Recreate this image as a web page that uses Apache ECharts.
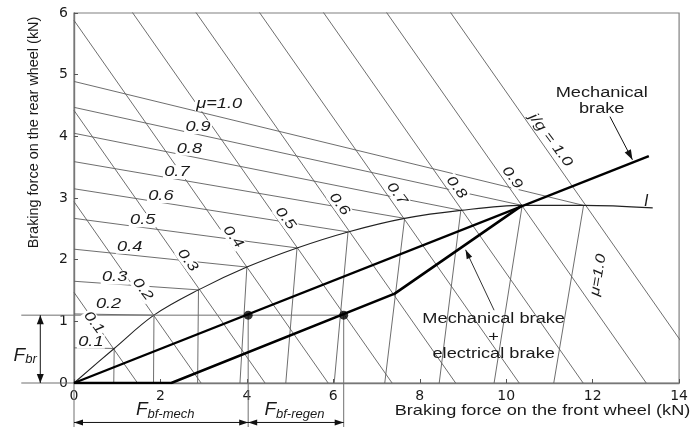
<!DOCTYPE html>
<html><head><meta charset="utf-8">
<script src="https://cdn.jsdelivr.net/npm/echarts@6/dist/echarts.min.js"></script>
<style>html,body{margin:0;padding:0;background:#fff}#c{width:691px;height:427px}</style>
</head><body><div id="c"></div>
<script>
// ---------------- values (kN) ----------------
// ideal braking force distribution curve I (points at j/g = 0, 0.1 ... 1.0, then its end)
const idealFront = [0, 0.93, 1.85, 2.88, 4.00, 5.16, 6.34, 7.65, 8.95, 10.37, 11.79, 13.39];
const idealRear  = [0, 0.56, 1.10, 1.51, 1.88, 2.19, 2.45, 2.67, 2.80, 2.88, 2.88, 2.84];
// friction levels mu = 0.1 ... 1.0
const muLevels = ['0.1', '0.2', '0.3', '0.4', '0.5', '0.6', '0.7', '0.8', '0.9', '1.0'];
// rear-wheel-lock lines: value on the rear-force axis at front force 0
const rearLockStart = [0.57, 1.12, 1.65, 2.17, 2.67, 3.15, 3.59, 4.05, 4.47, 4.89];
// front-wheel-lock lines: value on the front-force axis at rear force 0
const frontLockStart = [0.92, 1.84, 2.86, 3.84, 4.90, 6.02, 7.19, 8.45, 9.72, 11.10];
// constant-deceleration lines j/g = 0.1 ... 1.0: total braking force
const decelTotal = [1.47, 2.94, 4.42, 5.88, 7.36, 8.83, 10.30, 11.78, 13.24, 14.72];
// mechanical brake line
const mechFront = [0, 13.30];
const mechRear  = [0, 3.68];
// mechanical + electrical brake line
const hybFront = [0, 2.25, 7.42, 10.37];
const hybRear  = [0, 0, 1.45, 2.88];
// operating points (F_br and the two front forces)
const opRear = 1.10;
const opFront = [4.03, 6.24];
// tick labels
const xTicks = ['0', '2', '4', '6', '8', '10', '12', '14'];
const yTicks = ['0', '1', '2', '3', '4', '5', '6'];

// ---------------- label placement (layout, not data) ----------------
const rearLabelPos = [[0.39,0.67],[0.80,1.28],[0.94,1.71],[1.29,2.21],[1.59,2.64],[2.01,3.03],[2.38,3.42],[2.67,3.80],[2.87,4.15],[3.36,4.52]];
const decelLabelPos = [[0.46,0.98],[1.59,1.52],[2.63,1.99],[3.68,2.37],[4.89,2.67],[6.14,2.90],[7.47,3.07],[8.85,3.17],[10.14,3.33],[11.03,3.94]];

const SANS = '"Liberation Sans", Arial, Helvetica, sans-serif';
const INK = '#1a1a1a';
const thin = {color: '#5e5e5e', width: 0.9};

const chart = echarts.init(document.getElementById('c'), null, {renderer: 'canvas'});
const series = [];
function lineSeries(data, style, extra) {
  series.push(Object.assign({type: 'line', data: data, symbol: 'none', showSymbol: false,
    silent: true, animation: false, lineStyle: style, z: 2}, extra || {}));
}
decelTotal.forEach(s => lineSeries([[0, s], [s, 0]], thin));
rearLockStart.forEach((r, i) => lineSeries([[0, r], [idealFront[i + 1], idealRear[i + 1]]], thin));
frontLockStart.forEach((f, i) => lineSeries([[f, 0], [idealFront[i + 1], idealRear[i + 1]]], thin));
lineSeries(idealFront.map((f, i) => [f, idealRear[i]]), {color: '#222', width: 1.1}, {smooth: 0.35});
lineSeries(mechFront.map((f, i) => [f, mechRear[i]]), {color: '#000', width: 2.4}, {z: 4});
lineSeries(hybFront.map((f, i) => [f, hybRear[i]]), {color: '#000', width: 2.6}, {z: 4});
series.push({type: 'scatter', data: opFront.map(f => [f, opRear]), symbolSize: 9,
  itemStyle: {color: '#000'}, z: 6, silent: true, animation: false});

// annotations: labels, dimension lines and arrows, positioned through the axes
series.push({
  type: 'custom', data: [[0, 0]], clip: false, silent: true, animation: false, z: 3,
  renderItem: function (params, api) {
    const P = p => api.coord(p);
    const ch = [];
    function seg(a, b, col, w) {
      const p = P(a), q = P(b);
      ch.push({type: 'line', shape: {x1: p[0], y1: p[1], x2: q[0], y2: q[1]},
        style: {stroke: col || '#666', lineWidth: w || 1}});
    }
    function head(tipD, fromD, len, half) {
      const t = P(tipD), f = P(fromD);
      const dx = t[0] - f[0], dy = t[1] - f[1], L = Math.hypot(dx, dy);
      const ux = dx / L, uy = dy / L, bx = t[0] - ux * len, by = t[1] - uy * len;
      ch.push({type: 'polygon', shape: {points: [t, [bx - uy * half, by + ux * half], [bx + uy * half, by - ux * half]]},
        style: {fill: '#111'}});
    }
    function txt(pos, str, o) {
      const p = P(pos);
      ch.push({type: 'text', x: p[0], y: p[1], rotation: o.rot || 0, scaleX: o.sx || 1, z2: 10,
        style: {text: str, fontFamily: SANS, fontSize: o.fs || 14, fontStyle: o.it ? 'italic' : 'normal',
          fill: INK, align: 'center', verticalAlign: 'middle',
          backgroundColor: o.bg || null, padding: o.pad || 0, rich: o.rich}});
    }
    // extension lines outside the plot
    seg([-1.22, opRear], [opFront[1], opRear], '#707070', 1);
    seg([-1.22, 0], [0, 0], '#707070', 1.2);
    seg([0, 0], [0, -0.72], '#707070', 1);
    seg([opFront[0], opRear], [opFront[0], -0.72], '#707070', 1);
    seg([opFront[1], opRear], [opFront[1], -0.72], '#707070', 1);
    // F_br dimension arrow
    seg([-0.78, 0], [-0.78, opRear], '#111', 1);
    head([-0.78, opRear], [-0.78, 0], 9, 3.5);
    head([-0.78, 0], [-0.78, opRear], 9, 3.5);
    // front-force dimension arrows
    const dy = -0.64;
    seg([0, dy], [opFront[1], dy], '#111', 1);
    head([0, dy], [1, dy], 9, 3);
    head([opFront[0], dy], [0, dy], 9, 3);
    head([opFront[0], dy], [opFront[1], dy], 9, 3);
    head([opFront[1], dy], [opFront[0], dy], 9, 3);
    // pointer arrows
    seg([12.40, 4.32], [12.92, 3.62], '#111', 1);
    head([12.92, 3.62], [12.40, 4.32], 10, 3.5);
    seg([9.72, 1.18], [9.06, 2.16], '#333', 1);
    head([9.06, 2.16], [9.72, 1.18], 9, 3);
    // mu labels of rear-lock lines
    muLevels.forEach((m, i) => txt(rearLabelPos[i], i === 9 ? 'μ=' + m : m,
      {it: true, fs: 14, sx: 1.3, bg: '#fff', pad: [0, 1]}));
    // deceleration labels
    muLevels.forEach((m, i) => txt(decelLabelPos[i], i === 9 ? 'j/g = ' + m : m,
      {it: true, fs: 14, sx: 1.25, rot: -0.93, bg: '#fff', pad: [0, 1]}));
    txt([12.13, 1.75], 'μ=1.0', {it: true, fs: 14, sx: 1.2, rot: 1.40});
    txt([13.24, 2.95], 'I', {it: true, fs: 16});
    txt([12.21, 4.70], 'Mechanical', {fs: 14, sx: 1.3});
    txt([12.21, 4.44], 'brake', {fs: 14, sx: 1.3});
    txt([9.71, 1.03], 'Mechanical brake', {fs: 14, sx: 1.3});
    txt([9.71, 0.75], '+', {fs: 14, sx: 1.3});
    txt([9.71, 0.47], 'electrical brake', {fs: 14, sx: 1.3});
    const rich = {F: {fontSize: 19, fontStyle: 'italic', fontFamily: SANS, fill: INK},
                  s: {fontSize: 13, fontStyle: 'italic', fontFamily: SANS, fill: INK, padding: [9, 0, 0, 0]}};
    txt([-1.13, 0.45], '{F|F}{s|br}', {rich: rich});
    txt([2.11, -0.44], '{F|F}{s|bf-mech}', {rich: rich});
    txt([5.10, -0.44], '{F|F}{s|bf-regen}', {rich: rich});
    return {type: 'group', children: ch};
  }
});

const axisCommon = {
  type: 'value', splitLine: {show: false},
  axisLine: {show: true, lineStyle: {color: '#777', width: 1.4}},
  axisTick: {show: true, inside: true, length: 4, lineStyle: {color: '#555', width: 1}},
  axisLabel: {fontFamily: '"DejaVu Sans", sans-serif', fontSize: 14, color: INK, margin: 6}
};
chart.setOption({
  animation: false,
  backgroundColor: '#fff',
  grid: {left: 74, right: 8, top: 13, bottom: 44, show: true, borderColor: '#808080', borderWidth: 1.2, containLabel: false},
  xAxis: Object.assign({}, axisCommon, {min: 0, max: 14, interval: 2,
    axisLabel: Object.assign({}, axisCommon.axisLabel, {formatter: v => xTicks[Math.round(v / 2)]})}),
  yAxis: Object.assign({}, axisCommon, {min: 0, max: 6, interval: 1,
    axisLabel: Object.assign({}, axisCommon.axisLabel, {formatter: v => yTicks[Math.round(v)]})}),
  graphic: [
    {type: 'text', x: 542.5, y: 411, scaleX: 1.21, silent: true,
      style: {text: 'Braking force on the front wheel (kN)', fontFamily: SANS, fontSize: 15, fill: INK, align: 'center', verticalAlign: 'middle'}},
    {type: 'text', x: 33.7, y: 132.5, rotation: Math.PI / 2, scaleX: 1.03, silent: true,
      style: {text: 'Braking force on the rear wheel (kN)', fontFamily: SANS, fontSize: 14, fill: INK, align: 'center', verticalAlign: 'middle'}}
  ],
  series: series
});
</script>
</body></html>
